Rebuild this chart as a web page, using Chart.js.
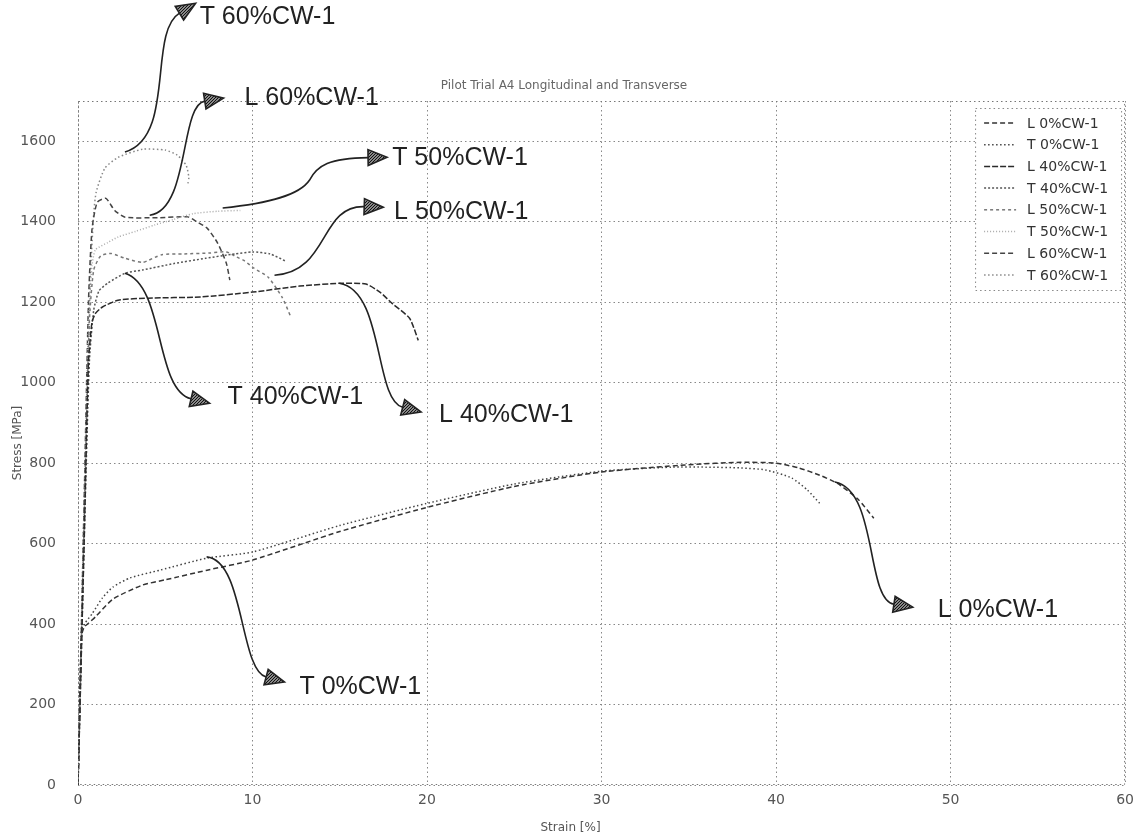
<!DOCTYPE html>
<html>
<head>
<meta charset="utf-8">
<title>Pilot Trial A4 Longitudinal and Transverse</title>
<script src="https://cdn.jsdelivr.net/npm/chart.js@4.4.1/dist/chart.umd.min.js"></script>
<style>
  html, body { margin: 0; padding: 0; background: #fff; }
  #wrap { width: 1141px; height: 836px; position: relative; }
</style>
</head>
<body>
<div id="wrap"><canvas id="stressChart"></canvas></div>
<script>
// stress-strain curves (strain %, stress MPa)
const seriesLabels = ['L 0%CW-1', 'T 0%CW-1', 'L 40%CW-1', 'T 40%CW-1', 'L 50%CW-1', 'T 50%CW-1', 'L 60%CW-1', 'T 60%CW-1'];

const strainL0 = [0, 0.2, 0.35, 0.6, 1.0, 2, 3.7, 5, 7.4, 10, 15, 20, 25, 30, 35, 38, 40, 41.3, 42.5, 43.5, 44.7, 45.6];
const stressL0 = [0, 370, 392, 402, 418, 462, 497, 510, 534, 559, 630, 690, 742, 778, 796, 802, 800, 788, 770, 750, 710, 663];

const strainT0 = [0, 0.2, 0.4, 0.8, 1.4, 2, 3, 4.7, 7.4, 10, 15, 20, 25, 30, 34, 36, 38, 39.4, 40.9, 41.8, 42.5];
const stressT0 = [0, 380, 402, 425, 465, 492, 515, 534, 564, 579, 645, 700, 748, 780, 790, 790, 788, 783, 763, 733, 700];

const strainL40 = [0, 0.35, 0.6, 0.8, 1.0, 1.4, 2.3, 4, 7, 10, 12.7, 15, 16.5, 17.3, 18, 19, 19.5];
const stressL40 = [0, 600, 1050, 1150, 1172, 1188, 1205, 1210, 1213, 1225, 1240, 1247, 1245, 1225, 1197, 1160, 1105];

const strainT40 = [0, 0.35, 0.65, 0.9, 1.2, 1.7, 2.7, 3.7, 5.5, 7.3, 9, 10, 11, 11.9];
const stressT40 = [0, 600, 1050, 1180, 1228, 1247, 1272, 1280, 1296, 1309, 1320, 1325, 1320, 1302];

const strainL50 = [0, 0.35, 0.65, 0.9, 1.3, 1.9, 2.7, 3.7, 4.8, 6.1, 7.5, 8.5, 9.1, 9.5, 10.1, 10.9, 11.7, 12.2];
const stressL50 = [0, 650, 1150, 1280, 1315, 1321, 1309, 1299, 1318, 1320, 1322, 1325, 1312, 1304, 1284, 1262, 1212, 1163];

const strainT50 = [0, 0.35, 0.6, 0.8, 1.0, 1.7, 2.3, 3.3, 4.4, 5.5, 6.6, 8, 9.3];
const stressT50 = [0, 650, 1150, 1290, 1330, 1348, 1362, 1376, 1392, 1406, 1420, 1426, 1428];

const strainL60 = [0, 0.35, 0.6, 0.8, 1.1, 1.6, 2.1, 2.7, 4.6, 6.3, 6.8, 7.4, 8, 8.5, 8.7];
const stressL60 = [0, 700, 1200, 1380, 1448, 1458, 1428, 1411, 1410, 1412, 1400, 1384, 1347, 1297, 1255];

const strainT60 = [0, 0.35, 0.7, 0.9, 1.05, 1.54, 2.3, 3.7, 5, 5.7, 6.2, 6.35, 6.3];
const stressT60 = [0, 700, 1250, 1420, 1475, 1533, 1560, 1580, 1578, 1565, 1540, 1510, 1495];

const strainSets = [strainL0, strainT0, strainL40, strainT40, strainL50, strainT50, strainL60, strainT60];
const stressSets = [stressL0, stressT0, stressL40, stressT40, stressL50, stressT50, stressL60, stressT60];

// line look per series
const lineColors = ['#333', '#444', '#2a2a2a', '#555', '#777', '#aaa', '#444', '#888'];
const lineDashes = [[5, 3], [1.5, 2.5], [6, 2], [2, 2], [3, 3], [1, 2], [5, 3], [1.5, 2.5]];

// callouts: text, bezier path in data units (start, c1, c2, end ... last point = arrow tip), label anchor
const calloutText = ['T 60%CW-1', 'L 60%CW-1', 'T 50%CW-1', 'L 50%CW-1', 'T 40%CW-1', 'L 40%CW-1', 'L 0%CW-1', 'T 0%CW-1'];
const calloutPaths = [
  [[2.69, 1573], [5.60, 1610], [4.00, 1870], [6.74, 1943]],
  [[4.11, 1416], [6.40, 1429], [5.83, 1690], [8.34, 1707]],
  [[8.29, 1434], [10.97, 1446], [12.69, 1466], [13.26, 1503], [13.71, 1540], [14.40, 1558], [17.71, 1560]],
  [[11.26, 1267], [14.40, 1275], [13.83, 1441], [17.49, 1436]],
  [[2.69, 1272], [4.97, 1242], [4.40, 981], [7.54, 949]],
  [[14.97, 1247], [17.54, 1230], [16.97, 957], [19.66, 927]],
  [[43.37, 753], [45.83, 733], [45.14, 460], [47.83, 442]],
  [[7.37, 567], [9.54, 559], [9.26, 286], [11.83, 256]]
];
const calloutLabelAt = [[6.97, 1908], [9.54, 1707], [18.0, 1558], [18.11, 1424], [8.57, 964], [20.69, 919], [49.26, 435], [12.69, 244]];

Chart.defaults.font.family = "'DejaVu Sans', sans-serif";
Chart.defaults.color = '#555';

function makeHatch(ctx) {
  const c = document.createElement('canvas');
  c.width = 3; c.height = 3;
  const p = c.getContext('2d');
  p.fillStyle = '#888';
  p.fillRect(0, 0, 3, 3);
  p.fillStyle = '#111';
  p.fillRect(0, 0, 1, 1);
  p.fillRect(2, 1, 1, 1);
  p.fillRect(1, 2, 1, 1);
  return ctx.createPattern(c, 'repeat');
}

function drawArrow(ctx, pts, headLen, headHalf) {
  const tip = pts[pts.length - 1];
  const c2 = pts[pts.length - 2];
  const dx = tip[0] - c2[0], dy = tip[1] - c2[1];
  const len = Math.hypot(dx, dy) || 1;
  const ux = dx / len, uy = dy / len;
  const base = [tip[0] - ux * headLen, tip[1] - uy * headLen];

  ctx.beginPath();
  ctx.moveTo(pts[0][0], pts[0][1]);
  for (let i = 1; i < pts.length; i += 3) {
    const end = (i + 2 === pts.length - 1) ? base : pts[i + 2];
    ctx.bezierCurveTo(pts[i][0], pts[i][1], pts[i + 1][0], pts[i + 1][1], end[0], end[1]);
  }
  ctx.stroke();

  ctx.beginPath();
  ctx.moveTo(tip[0], tip[1]);
  ctx.lineTo(base[0] - uy * headHalf, base[1] + ux * headHalf);
  ctx.lineTo(base[0] + uy * headHalf, base[1] - ux * headHalf);
  ctx.closePath();
  ctx.fill();
  ctx.stroke();
}

// frame, axis titles, legend box and callout arrows
const decorPlugin = {
  id: 'decor',
  afterDraw(chart) {
    const { ctx, chartArea: a, scales: { x, y } } = chart;
    ctx.save();

    // dotted frame round the plot
    ctx.strokeStyle = '#777';
    ctx.lineWidth = 1;
    ctx.setLineDash([1.5, 3]);
    ctx.strokeRect(a.left + 0.5, a.top + 0.5, a.right - a.left - 1, a.bottom - a.top - 1);

    // axis titles
    ctx.setLineDash([]);
    ctx.fillStyle = '#555';
    ctx.font = "12px 'DejaVu Sans', sans-serif";
    ctx.textAlign = 'center';
    ctx.textBaseline = 'middle';
    ctx.fillText('Strain [%]', chart.width / 2, 828);
    ctx.save();
    ctx.translate(18, (a.top + a.bottom) / 2);
    ctx.rotate(-Math.PI / 2);
    ctx.fillText('Stress [MPa]', 0, 0);
    ctx.restore();

    // legend box
    const lx = a.right - 150, ly = a.top + 7, lw = 146, lh = 182;
    ctx.fillStyle = '#fff';
    ctx.fillRect(lx, ly, lw, lh);
    ctx.strokeStyle = '#888';
    ctx.setLineDash([1.5, 3]);
    ctx.strokeRect(lx + 0.5, ly + 0.5, lw, lh);
    ctx.font = "14px 'DejaVu Sans', sans-serif";
    ctx.textAlign = 'left';
    chart.data.datasets.forEach((ds, i) => {
      const ry = ly + 15 + i * 21.7;
      ctx.strokeStyle = ds.borderColor;
      ctx.lineWidth = 1.5;
      ctx.setLineDash(ds.borderDash);
      ctx.beginPath();
      ctx.moveTo(lx + 9, ry);
      ctx.lineTo(lx + 41, ry);
      ctx.stroke();
      ctx.fillStyle = '#333';
      ctx.fillText(ds.label, lx + 52, ry + 1);
    });

    // callouts
    ctx.setLineDash([]);
    ctx.strokeStyle = '#222';
    ctx.lineWidth = 1.6;
    ctx.fillStyle = makeHatch(ctx);
    calloutPaths.forEach(path => {
      const pts = path.map(p => [x.getPixelForValue(p[0]), y.getPixelForValue(p[1])]);
      drawArrow(ctx, pts, 19, 8);
    });
    ctx.fillStyle = '#222';
    ctx.font = "25px 'Liberation Sans', Arial, sans-serif";
    ctx.textAlign = 'left';
    ctx.textBaseline = 'middle';
    calloutText.forEach((t, i) => {
      const p = calloutLabelAt[i];
      ctx.fillText(t, x.getPixelForValue(p[0]), y.getPixelForValue(p[1]));
    });

    ctx.restore();
  }
};

const datasets = seriesLabels.map((label, i) => ({
  label: label,
  data: strainSets[i].map((s, k) => ({ x: s, y: stressSets[i][k] })),
  borderColor: lineColors[i],
  borderDash: lineDashes[i],
  borderWidth: 1.5,
  pointRadius: 0,
  showLine: true,
  fill: false,
  tension: 0.2
}));

new Chart(document.getElementById('stressChart'), {
  type: 'scatter',
  data: { datasets },
  options: {
    responsive: true,
    maintainAspectRatio: false,
    animation: false,
    layout: { padding: { left: 0, right: 13, top: 0, bottom: 0 } },
    plugins: {
      legend: { display: false },
      tooltip: { enabled: false },
      title: {
        display: true,
        text: 'Pilot Trial A4 Longitudinal and Transverse',
        color: '#666',
        font: { size: 12, weight: 'normal' },
        padding: { top: 79, bottom: 7.6 }
      }
    },
    scales: {
      x: {
        type: 'linear',
        min: 0,
        max: 60,
        ticks: { stepSize: 10, padding: 7, color: '#555', font: { size: 14 }, callback: v => String(v) },
        grid: { color: '#888', lineWidth: 1, drawTicks: false },
        border: { display: false, dash: [1.5, 3] },
        afterFit: function(scale) { scale.height = 51; }
      },
      y: {
        min: 0,
        max: 1700,
        ticks: { stepSize: 200, padding: 22, color: '#555', font: { size: 14 }, callback: v => String(v) },
        grid: { color: '#888', lineWidth: 1, drawTicks: false },
        border: { display: false, dash: [1.5, 3] },
        afterBuildTicks: function(scale) {
          scale.ticks = scale.ticks.filter(t => t.value % 200 === 0);
        },
        afterFit: function(scale) { scale.width = 78; }
      }
    }
  },
  plugins: [decorPlugin]
});
</script>
</body>
</html>
